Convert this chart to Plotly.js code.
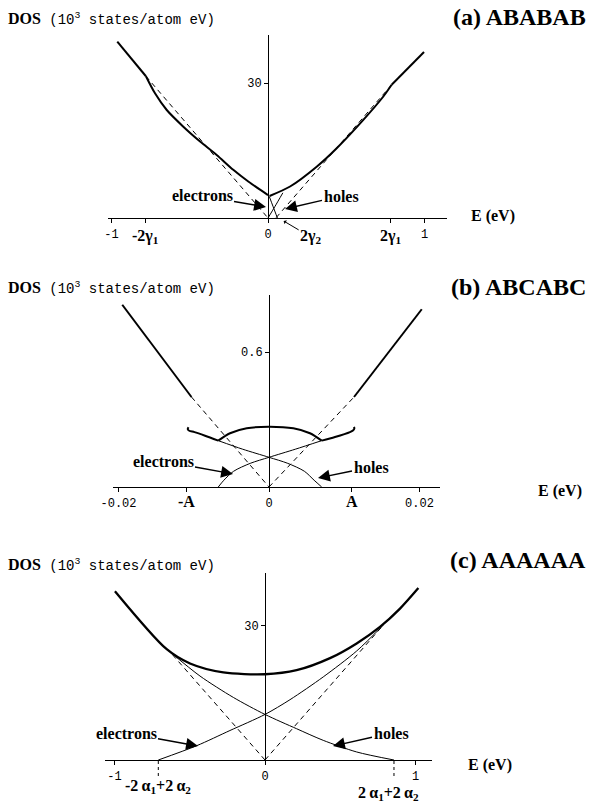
<!DOCTYPE html>
<html>
<head>
<meta charset="utf-8">
<script src="https://cdn.plot.ly/plotly-3.0.1.min.js"></script>
<style>
  html, body { margin: 0; padding: 0; background: #fff; }
  #chart { width: 590px; height: 806px; }
</style>
</head>
<body>
<div id="chart"></div>
<script>
// ---------- (a) ABABAB : E in eV, DOS in 10^3 states/atom eV ----------
const abTickE = [-1, 0, 1];
const abTickText = ['-1', '0', '1'];
const abGamma1 = 0.78;
const abMinorE = [-0.78, 0.78];
const abGamma2x2 = 0.06;
const abDosTick = [30];
const abDosTickText = ['30'];
const abLeftOuterE = [-0.963, -0.78];
const abLeftOuterDos = [39.2, 31.5];
const abLeftInnerE = [-0.78, -0.722, -0.647, -0.541, -0.434, -0.328, -0.222, -0.126, 0];
const abLeftInnerDos = [31.5, 27.7, 24.0, 20.3, 17.0, 14.0, 10.7, 8.1, 5.1];
const abRightInnerE = [0.01, 0.141, 0.311, 0.439, 0.609, 0.737, 0.79];
const abRightInnerDos = [4.9, 7.0, 11.4, 15.5, 21.8, 27.0, 29.6];
const abRightOuterE = [0.79, 0.997];
const abRightOuterDos = [29.6, 36.9];
const abDashLeftE = [-0.78, 0];
const abDashLeftDos = [31.5, 0];
const abDashRightE = [0.79, 0.05];
const abDashRightDos = [29.6, 0];
const abElectronsE = [0, 0.045, 0.095];
const abElectronsDos = [0, 2.6, 5.6];
const abHolesE = [0.06, 0.033, 0.008];
const abHolesDos = [0, 2.5, 4.8];

// ---------- (b) ABCABC ----------
const bcTickE = [-0.02, 0, 0.02];
const bcTickText = ['-0.02', '0', '0.02'];
const bcA = 0.011;
const bcMinorE = [-0.011, 0.011];
const bcDosTick = [0.6];
const bcDosTickText = ['0.6'];
const bcSolidLeftE = [-0.0195, -0.0103];
const bcSolidLeftDos = [0.81, 0.40];
const bcSolidRightE = [0.0113, 0.0203];
const bcSolidRightDos = [0.40, 0.79];
const bcDashLeftE = [-0.0103, 0];
const bcDashLeftDos = [0.40, 0];
const bcDashRightE = [0, 0.0113];
const bcDashRightDos = [0, 0.40];
const bcHookLeftE = [-0.0107, -0.0108, -0.0106, -0.0099, -0.0085, -0.00674];
const bcHookLeftDos = [0.266, 0.257, 0.250, 0.244, 0.228, 0.206];
const bcArchE = [-0.00674, -0.00518, -0.00296, 0, 0.00323, 0.00545, 0.007];
const bcArchDos = [0.206, 0.239, 0.261, 0.268, 0.261, 0.239, 0.206];
const bcHookRightE = [0.007, 0.00877, 0.01076, 0.01116, 0.01134, 0.0113];
const bcHookRightDos = [0.206, 0.222, 0.244, 0.251, 0.260, 0.267];
const bcElectronsE = [-0.00674, -0.006, -0.0047, -0.0025, 0, 0.0035, 0.007];
const bcElectronsDos = [0, 0.03, 0.07, 0.105, 0.132, 0.168, 0.206];
const bcHolesE = [0.007, 0.006, 0.0047, 0.0025, 0, -0.0035, -0.00674];
const bcHolesDos = [0, 0.03, 0.07, 0.105, 0.132, 0.168, 0.206];

// ---------- (c) AAAAAA ----------
const aaTickE = [-1, 0, 1];
const aaTickText = ['-1', '0', '1'];
const aaDosTick = [30];
const aaDosTickText = ['30'];
const aaBandEdges = [-0.709, 0.857];
const aaTotalE = [-0.997, -0.653, -0.498, -0.277, 0, 0.21, 0.432, 0.609, 0.764, 0.897, 1.019];
const aaTotalDos = [37.8, 24.8, 21.6, 19.6, 19.2, 20.1, 22.8, 26.1, 29.8, 33.9, 38.5];
const aaElectronsE = [-0.709, -0.454, -0.233, 0, 0.166, 0.387, 0.609, 0.786];
const aaElectronsDos = [0, 3.2, 6.6, 10.2, 13.5, 18.6, 24.4, 30.2];
const aaHolesE = [0.857, 0.609, 0.387, 0.21, 0, -0.21, -0.432, -0.631];
const aaHolesDos = [0, 1.8, 4.4, 7.0, 10.2, 14.0, 18.8, 24.2];
const aaDashLeftE = [0, -0.631];
const aaDashLeftDos = [0, 24.2];
const aaDashRightE = [0, 0.786];
const aaDashRightDos = [0, 30.2];

// ---------- page geometry (pixels) ----------
const W = 590, H = 806;
const fx = p => p / W;
const fy = p => 1 - p / H;
const SERIF = 'Liberation Serif, Times New Roman, serif';
const MONO = 'Liberation Mono, Courier New, monospace';

// plot boxes: ends of the energy axis, top of the DOS axis,
// pixel row of DOS = 0, pixel column of E = 0, pixels per unit
const boxes = [
  { left: 108, right: 447, top: 35,  base: 218, zero: 268, sx: 156.5, sy: 4.5 },
  { left: 113, right: 440, top: 295, base: 487, zero: 269, sx: 7525,  sy: 225 },
  { left: 105, right: 432, top: 573, base: 760, zero: 265, sx: 150.5, sy: 4.467 }
];

function xAxis(b, vals, text, minorVals) {
  const ax = {
    domain: [fx(b.left), fx(b.right)],
    range: [(b.left - b.zero) / b.sx, (b.right - b.zero) / b.sx],
    anchor: 'free', position: fy(b.base),
    showline: true, linecolor: '#000', linewidth: 1.2,
    ticks: 'outside', ticklen: 4, tickwidth: 1, tickcolor: '#000',
    tickmode: 'array', tickvals: vals, ticktext: text,
    tickfont: { family: MONO, size: 12, color: '#000' },
    showgrid: false, zeroline: false, fixedrange: true
  };
  if (minorVals) {
    ax.minor = { tickmode: 'array', tickvals: minorVals, ticks: 'outside',
                 ticklen: 4, tickwidth: 1, tickcolor: '#000', showgrid: false };
  }
  return ax;
}
function yAxis(b, vals, text) {
  return {
    domain: [fy(b.base), fy(b.top)],
    range: [0, (b.base - b.top) / b.sy],
    anchor: 'free', position: fx(b.zero),
    showline: true, linecolor: '#000', linewidth: 1.2,
    ticks: 'outside', ticklen: 4, tickwidth: 1, tickcolor: '#000',
    tickmode: 'array', tickvals: vals, ticktext: text,
    tickfont: { family: MONO, size: 12, color: '#000' },
    showgrid: false, zeroline: false, fixedrange: true
  };
}

function line(xs, ys, ax, opts) {
  return Object.assign({
    type: 'scatter', mode: 'lines', x: xs, y: ys,
    xaxis: 'x' + ax, yaxis: 'y' + ax,
    line: { color: '#000', width: 1 },
    hoverinfo: 'skip', showlegend: false
  }, opts || {});
}
const THICK = { line: { color: '#000', width: 2 } };
const THICK_SMOOTH = { line: { color: '#000', width: 2, shape: 'spline', smoothing: 0.8 } };
const THIN_SMOOTH = { line: { color: '#000', width: 1, shape: 'spline', smoothing: 0.8 } };
const DASH = { line: { color: '#000', width: 1, dash: '5px,4px' } };

const traces = [
  // (a)
  line(abDashLeftE, abDashLeftDos, '', DASH),
  line(abDashRightE, abDashRightDos, '', DASH),
  line(abLeftOuterE, abLeftOuterDos, '', THICK),
  line(abLeftInnerE, abLeftInnerDos, '', THICK_SMOOTH),
  line(abRightInnerE, abRightInnerDos, '', THICK_SMOOTH),
  line(abRightOuterE, abRightOuterDos, '', THICK),
  line(abElectronsE, abElectronsDos, '', THIN_SMOOTH),
  line(abHolesE, abHolesDos, '', THIN_SMOOTH),
  // (b)
  line(bcDashLeftE, bcDashLeftDos, '2', DASH),
  line(bcDashRightE, bcDashRightDos, '2', DASH),
  line(bcSolidLeftE, bcSolidLeftDos, '2', THICK),
  line(bcSolidRightE, bcSolidRightDos, '2', THICK),
  line(bcHookLeftE, bcHookLeftDos, '2', THICK_SMOOTH),
  line(bcArchE, bcArchDos, '2', THICK_SMOOTH),
  line(bcHookRightE, bcHookRightDos, '2', THICK_SMOOTH),
  line(bcElectronsE, bcElectronsDos, '2', THIN_SMOOTH),
  line(bcHolesE, bcHolesDos, '2', THIN_SMOOTH),
  // (c)
  line(aaDashLeftE, aaDashLeftDos, '3', DASH),
  line(aaDashRightE, aaDashRightDos, '3', DASH),
  line(aaElectronsE, aaElectronsDos, '3', THIN_SMOOTH),
  line(aaHolesE, aaHolesDos, '3', THIN_SMOOTH),
  line(aaTotalE, aaTotalDos, '3', { line: { color: '#000', width: 2.3, shape: 'spline', smoothing: 0.8 } })
];

const boldFont = (size) => ({ family: SERIF, size: size, color: '#000' });
const dosLabel = '<b>DOS</b><span style="font-family:' + MONO + ';font-size:14px"> (10<sup>3</sup>\u00a0states/atom eV)</span>';

function text(x, y, t, size, xanchor, extra) {
  return Object.assign({
    xref: 'paper', yref: 'paper', x: x, y: y, text: t, showarrow: false,
    xanchor: xanchor || 'center', yanchor: 'middle', font: boldFont(size)
  }, extra || {});
}
// a label whose arrow runs from the label box to the point (hx, hy)
function arrowLabel(t, hx, hy, cx, cy) {
  return {
    xref: 'paper', yref: 'paper', x: fx(hx), y: fy(hy), ax: cx - hx, ay: cy - hy,
    text: t, font: boldFont(16), showarrow: true,
    arrowhead: 2, arrowsize: 1.7, arrowwidth: 1.4, arrowcolor: '#000', standoff: 0
  };
}

const annotations = [
  // (a)
  text(fx(6), fy(19), dosLabel, 16, 'left'),
  text(fx(588), fy(17), '<b>(a) ABABAB</b>', 24, 'right'),
  text(fx(469), fy(216), '<b>E (eV)</b>', 16, 'left'),
  text(-abGamma1, fy(236), '<b>-2\u03b3<sub>1</sub></b>', 16, 'center', { xref: 'x' }),
  text(abGamma1, fy(236), '<b>2\u03b3<sub>1</sub></b>', 16, 'center', { xref: 'x' }),
  {
    xref: 'x', yref: 'paper', x: abGamma2x2 + 0.04, y: fy(221), ax: 27, ay: 16,
    text: '<b>2\u03b3<sub>2</sub></b>', font: boldFont(16), showarrow: true,
    arrowhead: 1, arrowsize: 0.8, arrowwidth: 1, arrowcolor: '#000'
  },
  arrowLabel('<b>electrons</b>', 266, 207, 202, 196),
  arrowLabel('<b>holes</b>', 285, 209, 341, 196),
  // (b)
  text(fx(6), fy(288), dosLabel, 16, 'left'),
  text(fx(588), fy(287), '<b>(b) ABCABC</b>', 24, 'right'),
  text(fx(584), fy(491), '<b>E (eV)</b>', 16, 'right'),
  text(-bcA, fy(501), '<b>-A</b>', 16, 'center', { xref: 'x2' }),
  text(bcA, fy(501), '<b>A</b>', 16, 'center', { xref: 'x2' }),
  arrowLabel('<b>electrons</b>', 233, 474, 163, 461),
  arrowLabel('<b>holes</b>', 318, 478, 371, 467),
  // (c)
  text(fx(6), fy(565), dosLabel, 16, 'left'),
  text(fx(588), fy(560), '<b>(c) AAAAAA</b>', 24, 'right'),
  text(fx(466), fy(765), '<b>E (eV)</b>', 16, 'left'),
  text(aaBandEdges[0], fy(786), '<b>-2\u2009\u03b1<sub>1</sub>+2\u2009\u03b1<sub>2</sub></b>', 16, 'center', { xref: 'x3' }),
  text(aaBandEdges[1], fy(793), '<b>2\u2009\u03b1<sub>1</sub>+2\u2009\u03b1<sub>2</sub></b>', 16, 'center', { xref: 'x3', xshift: -5 }),
  arrowLabel('<b>electrons</b>', 198, 746, 126, 733),
  arrowLabel('<b>holes</b>', 333, 746, 391, 733)
];

// dotted drop lines under the band edges in (c)
const shapes = aaBandEdges.map(e => ({
  type: 'line', xref: 'x3', yref: 'paper', x0: e, x1: e, y0: fy(761), y1: fy(779),
  line: { color: '#000', width: 1, dash: 'dot' }
}));

const layout = {
  width: W, height: H, autosize: false,
  margin: { l: 0, r: 0, t: 0, b: 0, pad: 0 },
  paper_bgcolor: '#fff', plot_bgcolor: 'rgba(0,0,0,0)',
  showlegend: false,
  xaxis: xAxis(boxes[0], abTickE, abTickText, abMinorE),
  yaxis: yAxis(boxes[0], abDosTick, abDosTickText),
  xaxis2: xAxis(boxes[1], bcTickE, bcTickText, bcMinorE),
  yaxis2: yAxis(boxes[1], bcDosTick, bcDosTickText),
  xaxis3: xAxis(boxes[2], aaTickE, aaTickText),
  yaxis3: yAxis(boxes[2], aaDosTick, aaDosTickText),
  annotations: annotations,
  shapes: shapes
};

Plotly.newPlot('chart', traces, layout, { staticPlot: true, displayModeBar: false });
</script>
</body>
</html>
